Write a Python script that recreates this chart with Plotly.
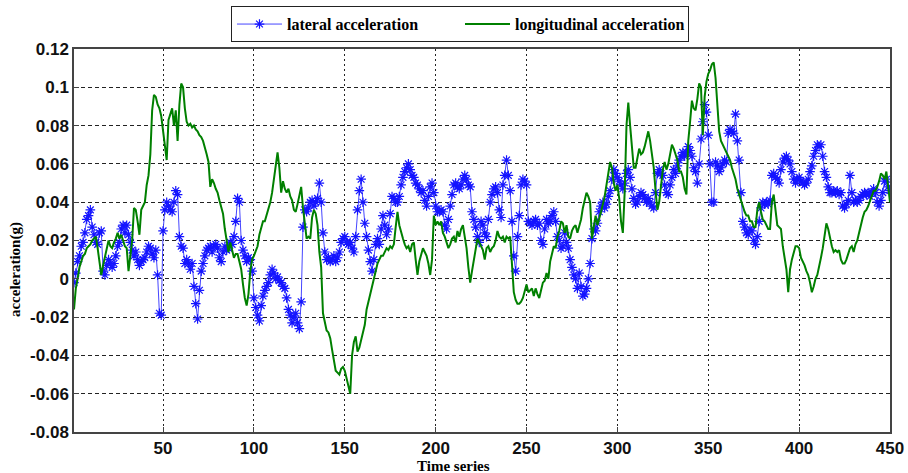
import plotly.graph_objects as go

time_index = list(range(1, 451))

lateral = [
    -0.002, 0.003, 0.009, 0.012, 0.017, 0.019, 0.024, 0.031, 0.033, 0.036,
    0.027, 0.023, 0.019, 0.018, 0.024, 0.025, 0.004, 0.002, 0.007, 0.010,
    0.008, 0.006, 0.008, 0.012, 0.017, 0.019, 0.026, 0.028, 0.024, 0.028,
    0.023, 0.019, 0.015, 0.012, 0.014, 0.010, 0.007, 0.009, 0.010, 0.011,
    0.014, 0.017, 0.016, 0.013, 0.011, 0.015, 0.002, -0.018, -0.019, 0.025,
    0.036, 0.040, 0.038, 0.036, 0.035, 0.040, 0.046, 0.044, 0.022, 0.017,
    0.016, 0.008, 0.010, 0.008, 0.005, 0.008, -0.004, -0.013, -0.021, -0.006,
    0.004, 0.008, 0.012, 0.015, 0.016, 0.017, 0.014, 0.017, 0.018, 0.016,
    0.011, 0.009, 0.014, 0.017, 0.015, 0.016, 0.019, 0.018, 0.022, 0.030,
    0.042, 0.040, 0.020, 0.015, 0.012, 0.009, 0.011, 0.010, 0.004, -0.010,
    -0.015, -0.019, -0.022, -0.014, -0.009, -0.006, -0.004, -0.002, 0.002, 0.005,
    0.003, 0.000, 0.001, -0.001, -0.002, -0.004, -0.005, -0.010, -0.016, -0.019,
    -0.023, -0.020, -0.018, -0.023, -0.026, -0.012, 0.027, 0.036, 0.035, 0.037,
    0.040, 0.041, 0.038, 0.040, 0.042, 0.050, 0.040, 0.024, 0.014, 0.010,
    0.011, 0.009, 0.010, 0.012, 0.009, 0.011, 0.014, 0.019, 0.021, 0.022,
    0.019, 0.018, 0.019, 0.016, 0.014, 0.022, 0.036, 0.046, 0.052, 0.040,
    0.029, 0.022, 0.015, 0.009, 0.004, 0.010, 0.018, 0.021, 0.018, 0.026,
    0.033, 0.028, 0.023, 0.026, 0.034, 0.043, 0.042, 0.040, 0.040, 0.043,
    0.049, 0.053, 0.056, 0.058, 0.060, 0.057, 0.054, 0.053, 0.050, 0.049,
    0.047, 0.045, 0.046, 0.041, 0.038, 0.043, 0.048, 0.050, 0.045, 0.038,
    0.035, 0.035, 0.036, 0.035, 0.028, 0.026, 0.031, 0.038, 0.044, 0.049,
    0.050, 0.048, 0.047, 0.049, 0.052, 0.054, 0.052, 0.049, 0.048, 0.035,
    0.031, 0.027, 0.022, 0.019, 0.030, 0.028, 0.024, 0.022, 0.031, 0.040,
    0.044, 0.047, 0.048, 0.045, 0.036, 0.032, 0.049, 0.054, 0.062, 0.054,
    0.046, 0.030, 0.012, 0.004, 0.022, 0.033, 0.049, 0.052, 0.051, 0.049,
    0.030, 0.029, 0.028, 0.030, 0.031, 0.028, 0.029, 0.020, 0.018, 0.026,
    0.031, 0.029, 0.030, 0.033, 0.035, 0.030, 0.022, 0.020, 0.016, 0.017,
    0.024, 0.019, 0.016, 0.010, 0.006, 0.002, 0.000, -0.005, 0.003, -0.004,
    -0.009, -0.008, -0.005, 0.000, 0.008, 0.021, 0.026, 0.025, 0.029, 0.035,
    0.038, 0.040, 0.037, 0.039, 0.043, 0.046, 0.052, 0.057, 0.055, 0.053,
    0.051, 0.049, 0.047, 0.050, 0.055, 0.057, 0.053, 0.047, 0.042, 0.039,
    0.040, 0.043, 0.045, 0.044, 0.042, 0.040, 0.042, 0.040, 0.038, 0.037,
    0.045, 0.055, 0.057, 0.055, 0.054, 0.049, 0.045, 0.044, 0.049, 0.053,
    0.057, 0.055, 0.059, 0.062, 0.064, 0.066, 0.064, 0.066, 0.069, 0.067,
    0.064, 0.058, 0.056, 0.050, 0.060, 0.073, 0.082, 0.091, 0.087, 0.075,
    0.060, 0.040, 0.040, 0.061, 0.059, 0.056, 0.058, 0.060, 0.062, 0.061,
    0.076, 0.078, 0.077, 0.076, 0.086, 0.072, 0.062, 0.045, 0.030, 0.027,
    0.024, 0.023, 0.026, 0.025, 0.020, 0.018, 0.022, 0.030, 0.037, 0.040,
    0.039, 0.040, 0.039, 0.041, 0.054, 0.055, 0.053, 0.052, 0.050, 0.057,
    0.061, 0.063, 0.064, 0.062, 0.060, 0.056, 0.052, 0.050, 0.052, 0.053,
    0.051, 0.050, 0.049, 0.050, 0.052, 0.056, 0.059, 0.064, 0.067, 0.070,
    0.069, 0.070, 0.064, 0.056, 0.053, 0.048, 0.045, 0.045, 0.046, 0.045,
    0.046, 0.044, 0.045, 0.038, 0.037, 0.039, 0.041, 0.054, 0.045, 0.040,
    0.041, 0.040, 0.041, 0.043, 0.044, 0.045, 0.044, 0.045, 0.043, 0.045,
    0.047, 0.045, 0.040, 0.038, 0.041, 0.045, 0.051, 0.052, 0.048, 0.046,
]

longitudinal = [
    -0.016, -0.005, 0.000, 0.006, 0.009, 0.012, 0.013, 0.016, 0.017, 0.018,
    0.020, 0.021, 0.022, 0.016, 0.009, 0.002, 0.007, 0.012, 0.016, 0.020,
    0.017, 0.016, 0.019, 0.021, 0.024, 0.021, 0.023, 0.020, 0.017, 0.016,
    0.004, 0.012, 0.020, 0.037, 0.036, 0.030, 0.023, 0.036, 0.038, 0.040,
    0.049, 0.054, 0.065, 0.088, 0.096, 0.095, 0.091, 0.089, 0.085, 0.078,
    0.070, 0.062, 0.083, 0.086, 0.089, 0.080, 0.088, 0.072, 0.091, 0.102,
    0.100, 0.089, 0.082, 0.080, 0.081, 0.079, 0.080, 0.078, 0.077, 0.075,
    0.074, 0.072, 0.069, 0.065, 0.061, 0.048, 0.052, 0.050, 0.047, 0.045,
    0.041, 0.038, 0.034, 0.026, 0.019, 0.014, 0.019, 0.015, 0.011, 0.013,
    0.013, 0.009, 0.005, -0.003, -0.010, -0.014, -0.008, 0.004, 0.010, 0.012,
    0.015, 0.017, 0.023, 0.026, 0.030, 0.030, 0.033, 0.037, 0.040, 0.045,
    0.053, 0.060, 0.066, 0.058, 0.045, 0.051, 0.047, 0.045, 0.047, 0.043,
    0.041, 0.036, 0.035, 0.039, 0.043, 0.048, 0.037, 0.030, 0.021, 0.022,
    0.021, 0.032, 0.036, 0.034, 0.028, 0.014, 0.006, -0.018, -0.023, -0.027,
    -0.028, -0.031, -0.037, -0.042, -0.048, -0.049, -0.050, -0.047, -0.046, -0.048,
    -0.052, -0.057, -0.060, -0.040, -0.033, -0.030, -0.038, -0.036, -0.032, -0.027,
    -0.024, -0.016, -0.012, -0.008, -0.003, 0.000, 0.004, 0.008, 0.010, 0.012,
    0.012, 0.014, 0.016, 0.015, 0.017, 0.016, 0.018, 0.027, 0.035, 0.028,
    0.024, 0.021, 0.018, 0.016, 0.017, 0.014, 0.018, 0.019, 0.010, 0.002,
    0.009, 0.013, 0.016, 0.014, 0.012, 0.008, 0.002, 0.010, 0.033, 0.028,
    0.030, 0.028, 0.030, 0.024, 0.022, 0.019, 0.016, 0.018, 0.021, 0.022,
    0.019, 0.025, 0.022, 0.026, 0.028, 0.022, 0.016, 0.006, -0.002, 0.004,
    0.010, 0.016, 0.021, 0.019, 0.017, 0.015, 0.010, 0.016, 0.017, 0.014,
    0.016, 0.017, 0.020, 0.025, 0.022, 0.021, 0.022, 0.019, 0.022, 0.021,
    0.022, 0.004, -0.007, -0.011, -0.013, -0.013, -0.012, -0.010, -0.006, -0.003,
    -0.007, -0.006, -0.005, -0.009, -0.005, -0.008, -0.010, -0.006, -0.002, -0.001,
    0.003, 0.000, 0.009, 0.013, 0.017, 0.016, 0.022, 0.025, 0.030, 0.029,
    0.024, 0.028, 0.022, 0.021, 0.025, 0.027, 0.028, 0.024, 0.028, 0.031,
    0.037, 0.042, 0.045, 0.043, 0.040, 0.021, 0.028, 0.033, 0.028, 0.031,
    0.035, 0.039, 0.043, 0.049, 0.055, 0.061, 0.058, 0.050, 0.046, 0.049,
    0.042, 0.030, 0.024, 0.045, 0.080, 0.092, 0.080, 0.070, 0.058, 0.058,
    0.064, 0.068, 0.065, 0.066, 0.069, 0.074, 0.077, 0.072, 0.066, 0.058,
    0.046, 0.036, 0.040, 0.050, 0.057, 0.061, 0.057, 0.060, 0.066, 0.070,
    0.068, 0.065, 0.062, 0.056, 0.056, 0.053, 0.047, 0.044, 0.072, 0.082,
    0.093, 0.089, 0.088, 0.094, 0.102, 0.100, 0.075, 0.095, 0.103, 0.107,
    0.109, 0.112, 0.113, 0.105, 0.088, 0.077, 0.072, 0.070, 0.068, 0.066,
    0.064, 0.062, 0.058, 0.055, 0.052, 0.047, 0.044, 0.041, 0.037, 0.035,
    0.033, 0.033, 0.030, 0.030, 0.027, 0.027, 0.036, 0.040, 0.035, 0.031,
    0.030, 0.028, 0.026, 0.026, 0.040, 0.044, 0.036, 0.028, 0.027, 0.026,
    0.017, 0.011, 0.005, -0.007, 0.005, 0.010, 0.014, 0.017, 0.017, 0.016,
    0.011, 0.009, 0.007, 0.004, 0.002, -0.002, -0.007, -0.004, 0.000, 0.002,
    0.006, 0.011, 0.016, 0.024, 0.029, 0.026, 0.021, 0.017, 0.014, 0.015,
    0.014, 0.015, 0.010, 0.008, 0.008, 0.010, 0.013, 0.016, 0.017, 0.014,
    0.018, 0.020, 0.024, 0.029, 0.032, 0.035, 0.036, 0.038, 0.041, 0.044,
    0.046, 0.046, 0.048, 0.051, 0.055, 0.054, 0.052, 0.056, 0.049, 0.040,
]

x_ticks = [50, 100, 150, 200, 250, 300, 350, 400, 450]
y_ticks = [-0.08, -0.06, -0.04, -0.02, 0, 0.02, 0.04, 0.06, 0.08, 0.1, 0.12]
y_tick_text = ["-0.08", "-0.06", "-0.04", "-0.02", "0", "0.02", "0.04", "0.06", "0.08", "0.1", "0.12"]

tick_font = dict(family="Liberation Sans, Arial, sans-serif", size=17, color="#111111", weight="bold")
serif_bold = "Liberation Serif, Times New Roman, serif"

fig = go.Figure()
fig.add_trace(go.Scatter(
    x=time_index, y=lateral, mode="lines+markers", name="<b>lateral acceleration</b>",
    line=dict(color="rgb(70,70,255)", width=1),
    marker=dict(symbol="asterisk-open", size=8, color="rgb(20,20,255)",
                line=dict(width=1.2, color="rgb(20,20,255)")),
))
fig.add_trace(go.Scatter(
    x=time_index, y=longitudinal, mode="lines", name="<b>longitudinal acceleration</b>",
    line=dict(color="rgb(0,128,0)", width=2),
))

fig.update_layout(
    width=908, height=473,
    margin=dict(l=74, r=18, t=49, b=41, autoexpand=False),
    paper_bgcolor="white", plot_bgcolor="white",
    showlegend=True,
    legend=dict(
        orientation="h", xref="container", yref="container",
        x=0.5066, xanchor="center", y=0.987, yanchor="top",
        bordercolor="#222222", borderwidth=1, bgcolor="white",
        font=dict(family=serif_bold, size=16, color="black", weight="bold"),
        entrywidth=168, itemwidth=45,
    ),
    xaxis=dict(
        range=[1, 450], tickvals=x_ticks, ticktext=[str(v) for v in x_ticks],
        tickfont=tick_font, showgrid=True, gridcolor="#222222", griddash="2px,3px", gridwidth=1,
        zeroline=False, showline=True, mirror=True, linecolor="#444444", linewidth=1.5,
        ticks="inside", ticklen=5, tickcolor="#444444",
    ),
    yaxis=dict(
        range=[-0.08, 0.12], tickvals=y_ticks, ticktext=y_tick_text,
        tickfont=tick_font, showgrid=True, gridcolor="#222222", griddash="4px,3px", gridwidth=1,
        zeroline=False, showline=True, mirror=True, linecolor="#444444", linewidth=1.5,
        ticks="inside", ticklen=5, tickcolor="#444444",
    ),
    annotations=[
        dict(text="<b>Time series</b>", xref="paper", yref="paper", x=0.4645, y=-0.089,
             xanchor="center", yanchor="middle", showarrow=False,
             font=dict(family=serif_bold, size=15, color="black")),
        dict(text="<b>acceleration(g)</b>", xref="paper", yref="paper", x=-0.071, y=0.423,
             xanchor="center", yanchor="middle", showarrow=False, textangle=-90,
             font=dict(family=serif_bold, size=15, color="black")),
    ],
)

fig.write_html("out.html")
